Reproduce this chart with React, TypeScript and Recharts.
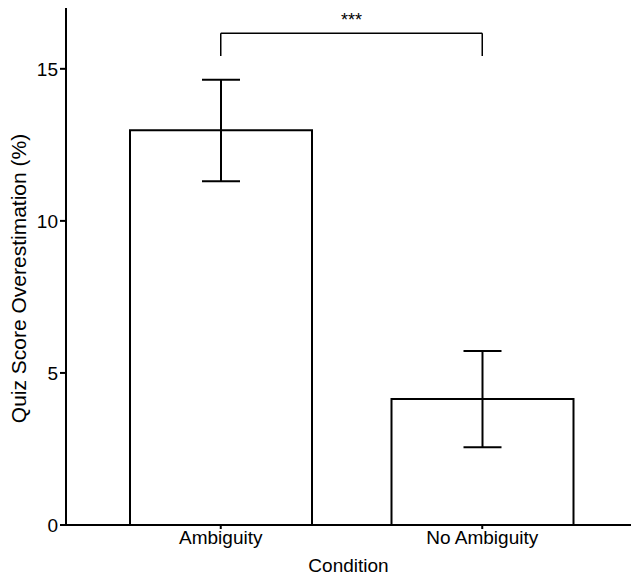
import {
  Bar,
  BarChart,
  ErrorBar,
  Label,
  ReferenceLine,
  XAxis,
  YAxis,
} from "recharts";

const conditions = ["Ambiguity", "No Ambiguity"];
const means = [12.98, 4.14];
const errLow = [1.68, 1.58];
const errHigh = [1.66, 1.58];
const yTicks = [0, 5, 10, 15];
const bracketY = 16.17;
const bracketFoot = 15.42;

const data = conditions.map((condition, i) => ({
  condition,
  mean: means[i],
  err: [errLow[i], errHigh[i]],
}));

const font = "'Liberation Sans', Arial, sans-serif";
const textStyle = { fontSize: 19, fill: "#000", fontFamily: font };

export default function App() {
  return (
    <div
      style={{
        position: "absolute",
        left: 0,
        top: 0,
        width: 631,
        height: 575,
        background: "white",
        fontFamily: font,
      }}
    >
      <BarChart
        width={631}
        height={575}
        data={data}
        margin={{ top: 8, right: 0, left: 0, bottom: 0 }}
        barSize={182}
      >
        <XAxis
          dataKey="condition"
          padding={{ left: 24, right: 18 }}
          height={50}
          axisLine={{ stroke: "#000", strokeWidth: 2 }}
          tickLine={{ stroke: "#000", strokeWidth: 2 }}
          tickSize={4}
          tick={textStyle}
        >
          <Label
            value="Condition"
            position="insideBottom"
            offset={3}
            style={textStyle}
          />
        </XAxis>
        <YAxis
          domain={[0, 17]}
          ticks={yTicks}
          width={66}
          axisLine={{ stroke: "#000", strokeWidth: 2 }}
          tickLine={{ stroke: "#000", strokeWidth: 2 }}
          tickSize={6}
          tickMargin={2}
          tick={textStyle}
        >
          <Label
            value="Quiz Score Overestimation (%)"
            angle={-90}
            position="insideLeft"
            offset={19}
            dy={12}
            style={{ ...textStyle, fontSize: 21, textAnchor: "middle" }}
          />
        </YAxis>
        <Bar
          dataKey="mean"
          fill="#fff"
          stroke="#000"
          strokeWidth={2}
          isAnimationActive={false}
        >
          <ErrorBar
            dataKey="err"
            width={19}
            stroke="#000"
            strokeWidth={2}
            isAnimationActive={false}
          />
        </Bar>
        <ReferenceLine
          segment={[
            { x: conditions[0], y: bracketY },
            { x: conditions[1], y: bracketY },
          ]}
          stroke="#000"
          strokeWidth={1.5}
        >
          <Label
            value="***"
            position="top"
            offset={7}
            style={{ fontSize: 18, fill: "#000", fontFamily: font }}
          />
        </ReferenceLine>
        <ReferenceLine
          segment={[
            { x: conditions[0], y: bracketY },
            { x: conditions[0], y: bracketFoot },
          ]}
          stroke="#000"
          strokeWidth={1.5}
        />
        <ReferenceLine
          segment={[
            { x: conditions[1], y: bracketY },
            { x: conditions[1], y: bracketFoot },
          ]}
          stroke="#000"
          strokeWidth={1.5}
        />
      </BarChart>
    </div>
  );
}
